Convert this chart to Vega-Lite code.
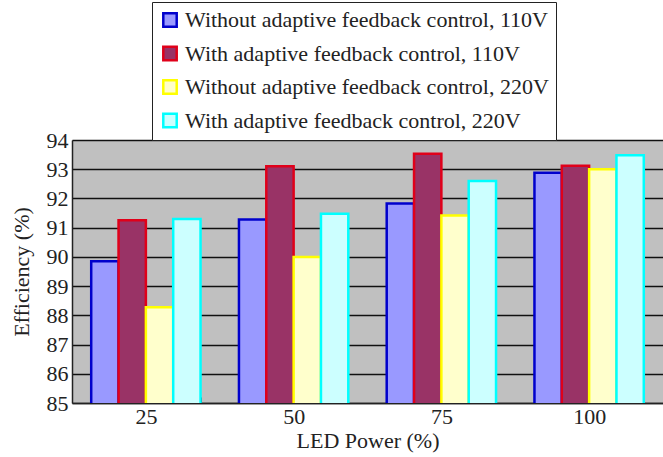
{
  "$schema": "https://vega.github.io/schema/vega-lite/v6.json",
  "width": 591,
  "height": 263,
  "autosize": "none",
  "padding": {"left": 72, "top": 140, "right": 0, "bottom": 54},
  "background": "white",
  "config": {
    "font": "Liberation Serif",
    "view": {"fill": "#C0C0C0", "stroke": null},
    "axis": {"labelFont": "Liberation Serif", "titleFont": "Liberation Serif", "labelColor": "#222", "titleColor": "#222", "titleFontWeight": "normal", "labelFontSize": 22, "titleFontSize": 22},
    "legend": {"labelFont": "Liberation Serif", "labelFontSize": 22, "labelColor": "#222"}
  },
  "data": {
    "values": [
      {"power": "25", "series": "Without adaptive feedback control, 110V", "value": 89.85},
      {"power": "25", "series": "With adaptive feedback control, 110V", "value": 91.25},
      {"power": "25", "series": "Without adaptive feedback control, 220V", "value": 88.28},
      {"power": "25", "series": "With adaptive feedback control, 220V", "value": 91.3},
      {"power": "50", "series": "Without adaptive feedback control, 110V", "value": 91.28},
      {"power": "50", "series": "With adaptive feedback control, 110V", "value": 93.1},
      {"power": "50", "series": "Without adaptive feedback control, 220V", "value": 90.0},
      {"power": "50", "series": "With adaptive feedback control, 220V", "value": 91.48},
      {"power": "75", "series": "Without adaptive feedback control, 110V", "value": 91.83},
      {"power": "75", "series": "With adaptive feedback control, 110V", "value": 93.53},
      {"power": "75", "series": "Without adaptive feedback control, 220V", "value": 91.42},
      {"power": "75", "series": "With adaptive feedback control, 220V", "value": 92.6},
      {"power": "100", "series": "Without adaptive feedback control, 110V", "value": 92.88},
      {"power": "100", "series": "With adaptive feedback control, 110V", "value": 93.12},
      {"power": "100", "series": "Without adaptive feedback control, 220V", "value": 93.0},
      {"power": "100", "series": "With adaptive feedback control, 220V", "value": 93.48}
    ]
  },
  "mark": {"type": "bar", "strokeWidth": 2.5, "clip": true},
  "encoding": {
    "x": {
      "field": "power", "type": "nominal", "sort": ["25", "50", "75", "100"],
      "title": "LED Power (%)",
      "scale": {"paddingInner": 0.26, "paddingOuter": 0.13},
      "axis": {"labelAngle": 0, "tickBand": "extent", "tickSize": -6, "tickColor": "#222", "domainColor": "#222", "domainWidth": 1.5, "labelPadding": 9, "titlePadding": 3}
    },
    "xOffset": {
      "field": "series", "type": "nominal",
      "sort": ["Without adaptive feedback control, 110V", "With adaptive feedback control, 110V", "Without adaptive feedback control, 220V", "With adaptive feedback control, 220V"],
      "scale": {"paddingInner": 0, "paddingOuter": 0}
    },
    "y": {
      "field": "value", "type": "quantitative",
      "title": "Efficiency (%)",
      "scale": {"domain": [85, 94], "nice": false, "zero": false},
      "axis": {"values": [85, 86, 87, 88, 89, 90, 91, 92, 93, 94], "gridColor": "#111", "gridWidth": 1.5, "gridOpacity": 1, "ticks": false, "domainColor": "#222", "domainWidth": 1.5, "labelPadding": 4, "titlePadding": 13}
    },
    "color": {
      "field": "series", "type": "nominal",
      "sort": ["Without adaptive feedback control, 110V", "With adaptive feedback control, 110V", "Without adaptive feedback control, 220V", "With adaptive feedback control, 220V"],
      "scale": {"range": ["#9999FF", "#993366", "#FFFFCC", "#CCFFFF"]},
      "legend": {
        "title": null, "orient": "none", "legendX": 80, "legendY": -138, "direction": "vertical",
        "symbolType": "square", "symbolSize": 180, "symbolStrokeWidth": 2.5,
        "labelFont": "Liberation Serif", "labelFontSize": 22, "labelColor": "#222", "labelLimit": 600,
        "rowPadding": 9.5, "padding": 7, "strokeColor": "#222", "fillColor": "white", "labelOffset": 4,
        "encode": {"symbols": {"update": {"stroke": {"scale": "stroke", "field": "value"}}}}
      }
    },
    "stroke": {
      "field": "series", "type": "nominal",
      "sort": ["Without adaptive feedback control, 110V", "With adaptive feedback control, 110V", "Without adaptive feedback control, 220V", "With adaptive feedback control, 220V"],
      "scale": {"range": ["#0000CC", "#E0001A", "#FFFF00", "#00FFFF"]},
      "legend": null
    }
  }
}
